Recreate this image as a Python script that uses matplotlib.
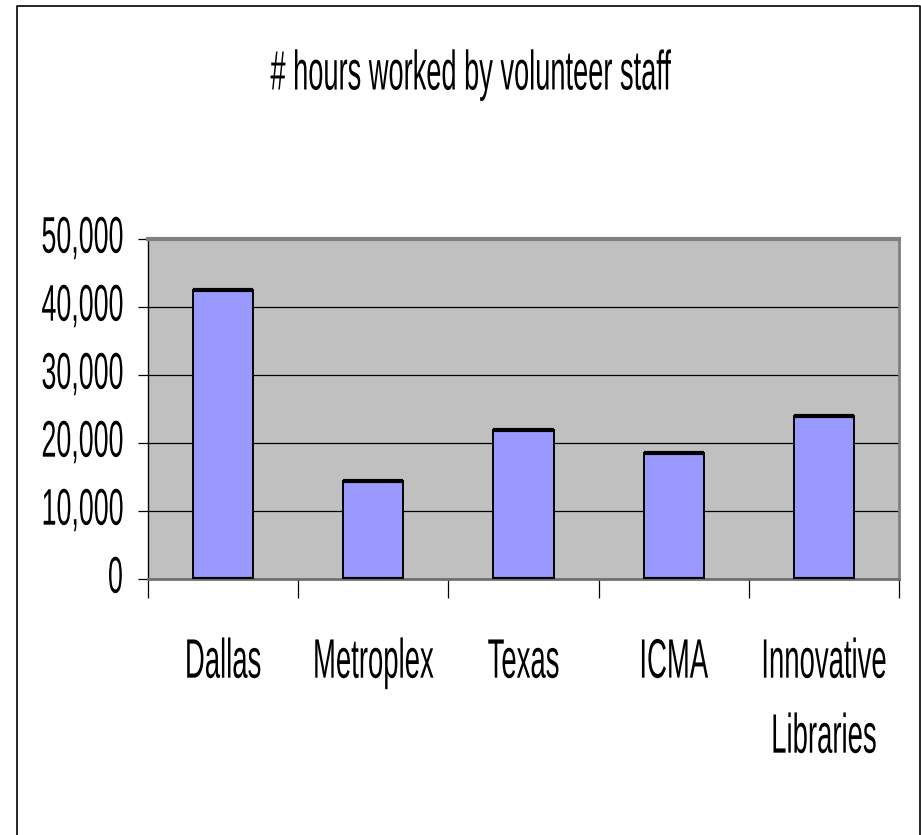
import matplotlib
matplotlib.use("Agg")
import matplotlib.pyplot as plt
import numpy as np
from matplotlib.patheffects import AbstractPathEffect
from matplotlib.transforms import Affine2D, ScaledTranslation
from matplotlib.lines import Line2D

# ---------------- data ----------------
categories = ["Dallas", "Metroplex", "Texas", "ICMA", "Innovative\nLibraries"]
hours = [42400, 14300, 21800, 18400, 23900]
y_ticks = [0, 10000, 20000, 30000, 40000, 50000]
y_tick_labels = ["0", "10,000", "20,000", "30,000", "40,000", "50,000"]
title = "# hours worked by volunteer staff"


class TallGlyphs(AbstractPathEffect):
    """Stretch glyphs vertically about their baseline (narrow, tall font look).
    Text stays real text; its width/layout is that of the nominal font size."""

    def __init__(self, sy=2.0):
        super().__init__()
        self.sy = sy

    def draw_path(self, renderer, gc, tpath, affine, rgbFace=None):
        ox, oy = affine.transform((0.0, 0.0))
        aff = affine + Affine2D().translate(-ox, -oy).scale(1.0, self.sy).translate(ox, oy)
        renderer.draw_path(gc, tpath, aff, rgbFace)


plt.rcParams["font.family"] = ["Liberation Sans", "DejaVu Sans"]

W, H = 921, 835
fig = plt.figure(figsize=(W / 100, H / 100), dpi=100)
fig.patch.set_facecolor("white")

# chart-area border (left, top, right)
bx0, bx1, by = 16.5 / W, 919.5 / W, 1 - 5.5 / H
fig.add_artist(Line2D([bx0, bx0, bx1, bx1], [-0.02, by, by, -0.02],
                      transform=fig.transFigure, color="black", lw=1.2))

ax = fig.add_axes([148 / W, 1 - 578.5 / H, 751 / W, 340 / H])
ax.set_facecolor("#C0C0C0")

x = np.arange(len(categories))
bw = 0.4
ax.bar(x, hours, width=bw, color="#9999FF", edgecolor="black", linewidth=1.4, zorder=3)
# thick dark caps at top and bottom of each bar
ax.hlines(hours, x - bw / 2, x + bw / 2, colors="black", linewidth=3.0, zorder=4)
ax.hlines(np.zeros(len(hours)), x - bw / 2, x + bw / 2, colors="black", linewidth=3.0, zorder=4)

ax.set_xlim(-0.5, len(categories) - 0.5)
ax.set_ylim(0, 50000)

ax.set_yticks(y_ticks)
ax.set_yticklabels(y_tick_labels)
ax.yaxis.grid(True, color="black", linewidth=0.9)
ax.set_axisbelow(True)

ax.set_xticks(x)
ax.set_xticklabels(categories, linespacing=3.45)
ax.set_xticks(np.arange(len(categories) + 1) - 0.5, minor=True)
ax.tick_params(axis="x", which="major", length=0, pad=57, labelsize=19.8)
ax.tick_params(axis="x", which="minor", length=13.5, width=0.9, color="black", direction="out")
ax.tick_params(axis="y", length=7.2, width=0.9, color="black", pad=11, labelsize=19.3)

ax.spines["top"].set_color("#808080")
ax.spines["top"].set_linewidth(3.0)
ax.spines["right"].set_color("#808080")
ax.spines["right"].set_linewidth(2.0)
ax.spines["bottom"].set_color("#707070")
ax.spines["bottom"].set_linewidth(2.0)
ax.spines["left"].set_color("black")
ax.spines["left"].set_linewidth(1.0)

down = ScaledTranslation(0, -10.2 / 72, fig.dpi_scale_trans)
for lbl in ax.get_yticklabels():
    lbl.set_verticalalignment("baseline")
    lbl.set_transform(lbl.get_transform() + down)
    lbl.set_path_effects([TallGlyphs(1.92)])
for lbl in ax.get_xticklabels():
    lbl.set_path_effects([TallGlyphs(2.02)])

fig.text(471 / W, 1 - 89.5 / H, title, ha="center", va="baseline", fontsize=19.6,
         path_effects=[TallGlyphs(2.04)])

fig.savefig("out.png", dpi=100, facecolor="white")
